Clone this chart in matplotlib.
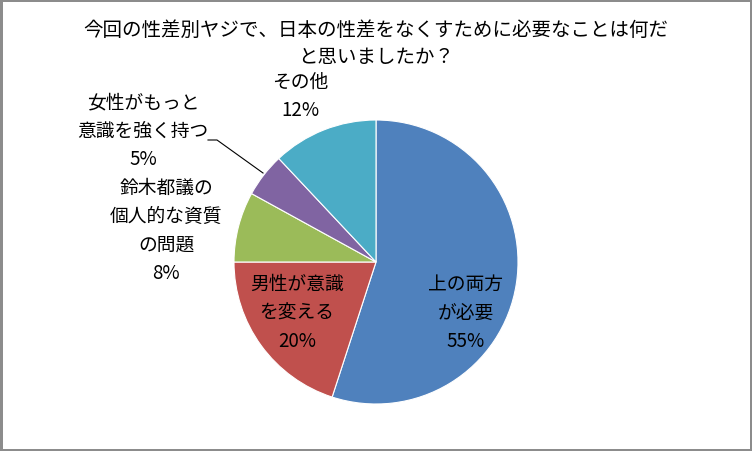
import matplotlib
matplotlib.use("Agg")
import matplotlib.pyplot as plt

plt.rcParams['font.family'] = ['Noto Sans CJK JP', 'DejaVu Sans']

title = "今回の性差別ヤジで、日本の性差をなくすために必要なことは何だ\nと思いましたか？"
categories = ["上の両方\nが必要", "男性が意識\nを変える", "鈴木都議の\n個人的な資質\nの問題",
              "女性がもっと\n意識を強く持つ", "その他"]
values = [55, 20, 8, 5, 12]
colors = ["#4F81BD", "#C0504D", "#9BBB59", "#8064A2", "#4BACC6"]

W, H = 752, 452
fig = plt.figure(figsize=(W / 100, H / 100), dpi=100)
fig.patch.set_edgecolor("#8c8c8c")
fig.patch.set_linewidth(2.5)
ax = fig.add_axes([0, 0, 1, 1])
ax.set_xlim(0, W)
ax.set_ylim(0, H)
ax.set_aspect("equal")
ax.axis("off")

cx, cy, r = 376, H - 263, 142
ax.pie(values, colors=colors, startangle=90, counterclock=False,
       center=(cx, cy), radius=r, frame=True,
       wedgeprops=dict(edgecolor="white", linewidth=0.8))
ax.set_xlim(0, W)
ax.set_ylim(0, H)
ax.axis("off")

# label placement (layout, pixel coordinates of label centres)
label_pos = [(466, 313), (297, 313), (166, 231), (143, 131), (300, 96)]
for cat, v, (lx, ly) in zip(categories, values, label_pos):
    ax.text(lx, H - ly, f"{cat}\n{v}%", ha="center", va="center",
            fontsize=13.5, color="black", linespacing=1.45)

# leader line for the small slice
ax.plot([208, 217, 263], [H - 141, H - 141, H - 174], color="black", lw=0.8)

fig.text(0.5, 1 - 44 / H, title, ha="center", va="center", fontsize=14,
         linespacing=1.35)

fig.savefig("out.png", dpi=100)
